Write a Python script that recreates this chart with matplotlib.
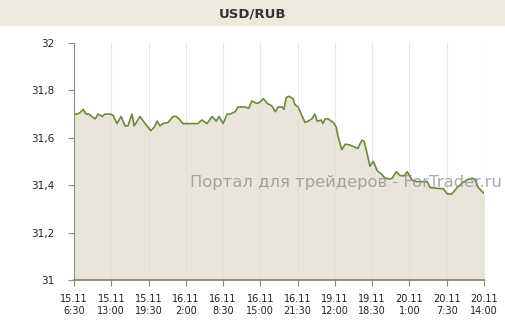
import numpy as np
import matplotlib.pyplot as plt

# hours from 15.11 6:30 (trading time) and USD/RUB rate
hours = [0, 0.5, 1.0, 1.6, 2.1, 2.6, 3.1, 3.7, 4.2, 4.9, 5.4, 6.3, 6.8, 7.5, 8.2, 8.9,
         9.4, 10.1, 10.5, 11.0, 11.5, 12.4, 13.4, 14.0, 14.5, 15.0, 15.5, 16.4, 17.3,
         17.8, 18.3, 19.0, 20.2, 21.6, 22.3, 23.2, 24.1, 24.8, 25.3, 26.0, 26.7, 27.2,
         28.1, 28.6, 29.8, 30.5, 31.0, 31.9, 32.4, 33.0, 33.7, 34.5, 35.1, 35.6, 36.3,
         36.6, 37.0, 37.5, 38.2, 38.5, 39.1, 39.8, 40.3, 40.8, 41.5, 42.0, 42.4, 43.1,
         43.4, 43.8, 44.3, 45.2, 45.7, 46.0, 46.4, 46.7, 47.3, 48.1, 49.0, 49.5, 50.2,
         50.6, 51.1, 51.6, 52.2, 52.9, 53.7, 54.2, 55.1, 55.5, 56.2, 56.9, 57.6, 58.1,
         59.0, 59.8, 60.9, 61.6, 62.1, 63.3, 64.4, 65.1, 65.9, 66.8, 67.7, 68.5, 69.4,
         69.9, 70.5, 71.5]
rate = [31.70, 31.70, 31.705, 31.72, 31.70, 31.70, 31.69, 31.68, 31.70, 31.69, 31.70,
        31.70, 31.695, 31.66, 31.69, 31.65, 31.65, 31.70, 31.65, 31.67, 31.69, 31.66,
        31.63, 31.645, 31.67, 31.65, 31.66, 31.665, 31.69, 31.69, 31.68, 31.66, 31.66,
        31.66, 31.675, 31.66, 31.69, 31.67, 31.69, 31.66, 31.70, 31.70, 31.71, 31.73,
        31.73, 31.725, 31.755, 31.745, 31.75, 31.765, 31.745, 31.735, 31.71, 31.73,
        31.73, 31.72, 31.77, 31.775, 31.765, 31.74, 31.73, 31.69, 31.665, 31.67, 31.68,
        31.70, 31.67, 31.675, 31.66, 31.68, 31.68, 31.665, 31.647, 31.61, 31.575, 31.55,
        31.573, 31.57, 31.56, 31.555, 31.59, 31.585, 31.535, 31.48, 31.50, 31.46, 31.445,
        31.43, 31.426, 31.43, 31.457, 31.44, 31.44, 31.457, 31.42, 31.415, 31.415,
        31.415, 31.39, 31.387, 31.385, 31.363, 31.363, 31.39, 31.41, 31.422, 31.43,
        31.425, 31.39, 31.366]

tick_labels = ['15.11\n6:30', '15.11\n13:00', '15.11\n19:30', '16.11\n2:00', '16.11\n8:30',
               '16.11\n15:00', '16.11\n21:30', '19.11\n12:00', '19.11\n18:30', '20.11\n1:00',
               '20.11\n7:30', '20.11\n14:00']
y_ticks = [31, 31.2, 31.4, 31.6, 31.8, 32]
y_labels = ['31', '31,2', '31,4', '31,6', '31,8', '32']

fig = plt.figure(figsize=(5.06, 3.35), dpi=100)
fig.patch.set_facecolor('white')

# title band
fig.patches.append(plt.Rectangle((0, 1 - 26 / 335), 1, 26 / 335, transform=fig.transFigure,
                                 facecolor='#ECE9DF', edgecolor='none', zorder=0))
fig.text(0.5, 1 - 14 / 335, 'USD/RUB', ha='center', va='center', fontsize=9.5,
         fontweight='bold', color='#333333')

ax = fig.add_axes([74 / 506, 1 - 280 / 335, 410 / 506, 237 / 335])
xt = np.arange(len(tick_labels)) * 6.5
ax.fill_between(hours, rate, 31, color='#E9E6D9', zorder=1)
ax.plot(hours, rate, color='#6F8A3C', lw=1.2, zorder=3)

ax.set_xlim(0, xt[-1])
ax.set_ylim(31, 32)
ax.set_xticks(xt)
ax.set_xticklabels(tick_labels, fontsize=7, color='#222222', linespacing=1.3)
ax.set_yticks(y_ticks)
ax.set_yticklabels(y_labels, fontsize=7.5, color='#222222')
for x in xt[1:]:
    ax.axvline(x, color='#DDDDDD', lw=0.8, alpha=0.7, zorder=2)

for s in ['top', 'right']:
    ax.spines[s].set_visible(False)
ax.spines['left'].set_color('#8C8C8C')
ax.spines['bottom'].set_color('#8A8A78')
ax.spines['bottom'].set_linewidth(1.3)
ax.tick_params(axis='y', length=4, color='#8C8C8C', pad=10)
ax.tick_params(axis='x', length=4, color='#8C8C8C', pad=6)

fig.text(190 / 506, 1 - 183 / 335, 'Портал для трейдеров - ForTrader.ru', fontsize=11.8,
         color='#8C8C8C', alpha=0.75, va='center', ha='left', zorder=5)

fig.savefig('out.png', dpi=100)
